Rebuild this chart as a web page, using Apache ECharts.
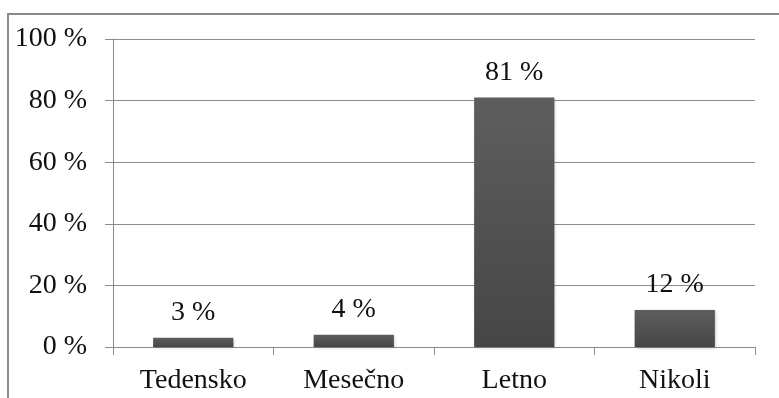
<!DOCTYPE html>
<html>
<head>
<meta charset="utf-8">
<script src="https://cdn.jsdelivr.net/npm/echarts@6/dist/echarts.min.js"></script>
<style>
  html, body { margin: 0; padding: 0; background: #fff; }
  #chart { width: 779px; height: 398px; }
</style>
</head>
<body>
<div id="chart"></div>
<script>
const categories = ['Tedensko', 'Mesečno', 'Letno', 'Nikoli'];
const values = [3, 4, 81, 12];
const yTicks = [0, 20, 40, 60, 80, 100];

const font = '"Liberation Serif", "Times New Roman", serif';
const axisGray = '#8c8c8c';

const chart = echarts.init(document.getElementById('chart'));
chart.setOption({
  animation: false,
  textStyle: { fontFamily: font },
  graphic: [{
    type: 'rect',
    shape: { x: 8, y: 14, width: 800, height: 500 },
    style: { fill: 'none', stroke: '#8a8a8a', lineWidth: 2 },
    silent: true
  }],
  grid: { left: 113, right: 24, top: 39, bottom: 51 },
  xAxis: {
    type: 'category',
    data: categories,
    axisLine: { lineStyle: { color: axisGray, width: 1 } },
    axisTick: { show: true, length: 8, lineStyle: { color: axisGray } },
    axisLabel: { color: '#111', fontSize: 28, fontFamily: font, margin: 20 }
  },
  yAxis: {
    type: 'value',
    min: yTicks[0],
    max: yTicks[yTicks.length - 1],
    interval: 20,
    axisLine: { show: true, lineStyle: { color: axisGray, width: 1 } },
    axisTick: { show: true, length: 8, lineStyle: { color: axisGray } },
    splitLine: { lineStyle: { color: axisGray, width: 1 } },
    axisLabel: {
      color: '#111', fontSize: 28, fontFamily: font, margin: 26,
      formatter: v => v + ' %'
    }
  },
  series: [{
    type: 'bar',
    data: values,
    barWidth: '50%',
    itemStyle: {
      color: new echarts.graphic.LinearGradient(0, 0, 0, 1, [
        { offset: 0, color: '#5e5e5e' },
        { offset: 1, color: '#464646' }
      ]),
      shadowColor: 'rgba(0,0,0,0.25)',
      shadowBlur: 3,
      shadowOffsetX: 1,
      shadowOffsetY: 1
    },
    label: {
      show: true,
      position: 'top',
      distance: 11,
      color: '#111',
      fontSize: 28,
      fontFamily: font,
      formatter: p => p.value + ' %'
    }
  }]
});
</script>
</body>
</html>
